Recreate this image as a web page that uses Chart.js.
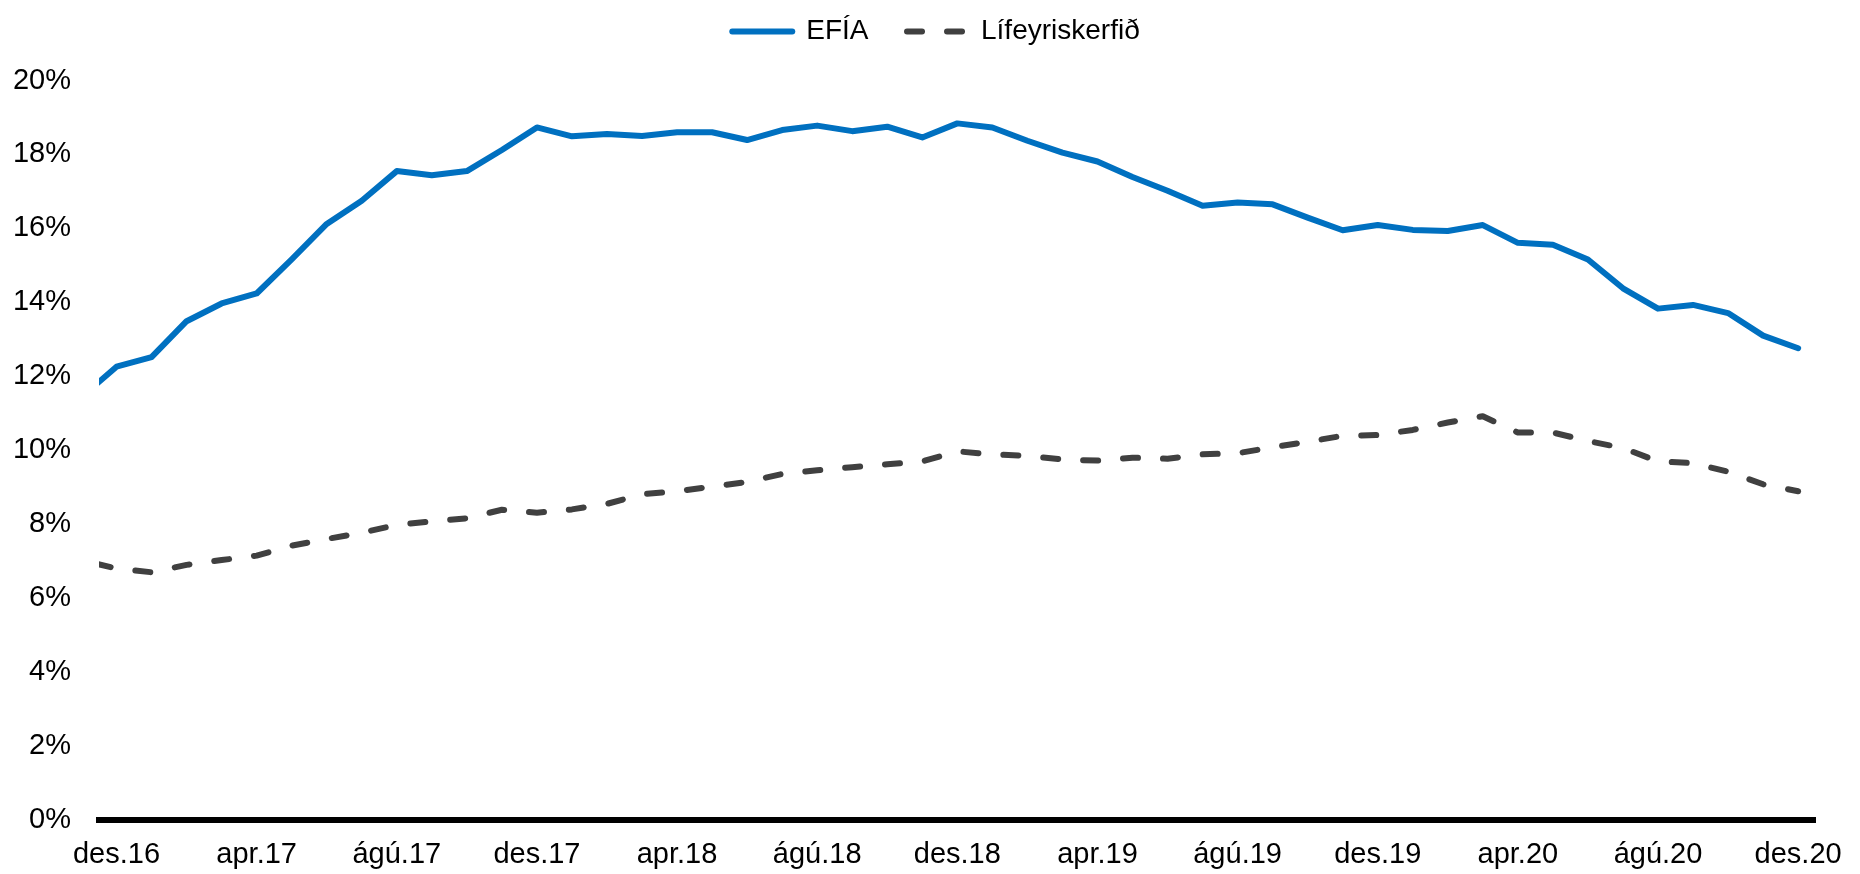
<!DOCTYPE html>
<html lang="is">
<head>
  <meta charset="UTF-8">
  <title>EFÍA og lífeyriskerfið</title>
  <script src="https://cdn.jsdelivr.net/npm/chart.js"></script>
  <style>
    html, body { margin: 0; padding: 0; background: #fff; }
    .chart-box { width: 1860px; height: 874px; position: relative; }
  </style>
</head>
<body>
  <div class="chart-box">
    <canvas id="lineChart"></canvas>
  </div>

  <script>
    // Months (first one sits just outside the left edge, as in the original)
    const months = [
      'nóv.16', 'des.16',
      'jan.17', 'feb.17', 'mar.17', 'apr.17', 'maí.17', 'jún.17', 'júl.17', 'ágú.17', 'sep.17', 'okt.17', 'nóv.17', 'des.17',
      'jan.18', 'feb.18', 'mar.18', 'apr.18', 'maí.18', 'jún.18', 'júl.18', 'ágú.18', 'sep.18', 'okt.18', 'nóv.18', 'des.18',
      'jan.19', 'feb.19', 'mar.19', 'apr.19', 'maí.19', 'jún.19', 'júl.19', 'ágú.19', 'sep.19', 'okt.19', 'nóv.19', 'des.19',
      'jan.20', 'feb.20', 'mar.20', 'apr.20', 'maí.20', 'jún.20', 'júl.20', 'ágú.20', 'sep.20', 'okt.20', 'nóv.20', 'des.20'
    ];

    // Labels shown under the axis
    const tickLabels = ['des.16', 'apr.17', 'ágú.17', 'des.17', 'apr.18', 'ágú.18', 'des.18',
                        'apr.19', 'ágú.19', 'des.19', 'apr.20', 'ágú.20', 'des.20'];

    // EFÍA (%)
    const efia = [
      11.44, 12.26,
      12.52, 13.49, 13.97, 14.24, 15.16, 16.12, 16.75, 17.55, 17.44, 17.55, 18.12, 18.73,
      18.49, 18.55, 18.50, 18.60, 18.60, 18.39, 18.66, 18.78, 18.63, 18.75, 18.46, 18.84,
      18.73, 18.37, 18.05, 17.81, 17.39, 17.02, 16.61, 16.70, 16.65, 16.29, 15.95, 16.09,
      15.96, 15.93, 16.09, 15.61, 15.56, 15.16, 14.38, 13.83, 13.93, 13.71, 13.10, 12.76
    ];

    // Lífeyriskerfið (%)
    const lifeyri = [
      7.03, 6.80,
      6.70, 6.90, 7.03, 7.15, 7.42, 7.60, 7.77, 7.98, 8.08, 8.16, 8.39, 8.31,
      8.40, 8.55, 8.81, 8.89, 9.02, 9.14, 9.36, 9.46, 9.54, 9.62, 9.70, 9.97,
      9.89, 9.85, 9.75, 9.72, 9.80, 9.77, 9.89, 9.92, 10.08, 10.23, 10.39, 10.41,
      10.55, 10.75, 10.92, 10.48, 10.48, 10.25, 10.06, 9.70, 9.65, 9.42, 9.08, 8.89
    ];

    const yTicks = [0, 2, 4, 6, 8, 10, 12, 14, 16, 18, 20];

    const toPoints = arr => arr.map((v, i) => ({ x: i, y: v }));
    const fontFamily = 'Liberation Sans, Arial, sans-serif';

    // legend: taller box so the plot starts lower, nudged a bit right
    const legendSpace = {
      id: 'legendSpace',
      beforeInit(chart) {
        const fit = chart.legend.fit;
        chart.legend.fit = function () {
          fit.call(this);
          this.height = 101.5;
        };
      },
      afterLayout(chart) {
        chart.legend.left += 16;
        chart.legend.right += 16;
      }
    };

    const ctx = document.getElementById('lineChart').getContext('2d');
    const lineChart = new Chart(ctx, {
      type: 'line',
      data: {
        datasets: [{
          label: 'EFÍA',
          data: toPoints(efia),
          borderColor: '#0070C0',
          backgroundColor: '#0070C0',
          borderWidth: 6,
          borderCapStyle: 'round',
          borderJoinStyle: 'round',
          pointRadius: 0,
          tension: 0,
          clip: 0
        },
        {
          label: 'Lífeyriskerfið',
          data: toPoints(lifeyri),
          borderColor: '#404040',
          backgroundColor: '#404040',
          borderWidth: 6,
          borderDash: [15, 25],
          borderDashOffset: 25,
          borderCapStyle: 'round',
          borderJoinStyle: 'round',
          pointRadius: 0,
          tension: 0,
          clip: 0
        }]
      },
      options: {
        responsive: true,
        maintainAspectRatio: false,
        animation: false,
        layout: {
          padding: { top: -21, left: 13, right: 33, bottom: 0 }
        },
        plugins: {
          legend: {
            position: 'top',
            labels: {
              usePointStyle: true,
              pointStyle: 'line',
              pointStyleWidth: 60,
              padding: 38.5,
              color: '#000',
              font: { family: fontFamily, size: 28 },
              generateLabels: chart => {
                const items = Chart.defaults.plugins.legend.labels.generateLabels(chart);
                items.forEach(item => {
                  const ds = chart.data.datasets[item.datasetIndex];
                  item.strokeStyle = ds.borderColor;
                  item.lineWidth = ds.borderWidth;
                  item.lineDash = ds.borderDash || [];
                  item.lineDashOffset = 0;
                  item.lineCap = 'round';
                });
                return items;
              }
            }
          },
          tooltip: { enabled: false }
        },
        scales: {
          x: {
            type: 'linear',
            min: 0.5,
            max: months.length - 0.5,
            grid: { display: false, drawTicks: false },
            border: { display: true, color: '#000', width: 6 },
            afterBuildTicks: scale => {
              scale.ticks = tickLabels.map(l => ({ value: months.indexOf(l) }));
            },
            afterFit: scale => { scale.height = 54; },
            ticks: {
              autoSkip: false,
              maxRotation: 0,
              padding: 18,
              color: '#000',
              font: { family: fontFamily, size: 29 },
              callback: value => months[value]
            }
          },
          y: {
            min: 0,
            max: 20,
            grid: { display: false, drawTicks: false },
            border: { display: false },
            afterBuildTicks: scale => {
              scale.ticks = yTicks.map(v => ({ value: v }));
            },
            afterFit: scale => { scale.width = 86; },
            ticks: {
              padding: 28,
              color: '#000',
              font: { family: fontFamily, size: 29 },
              callback: value => value + '%'
            }
          }
        }
      },
      plugins: [legendSpace]
    });
  </script>
</body>
</html>
